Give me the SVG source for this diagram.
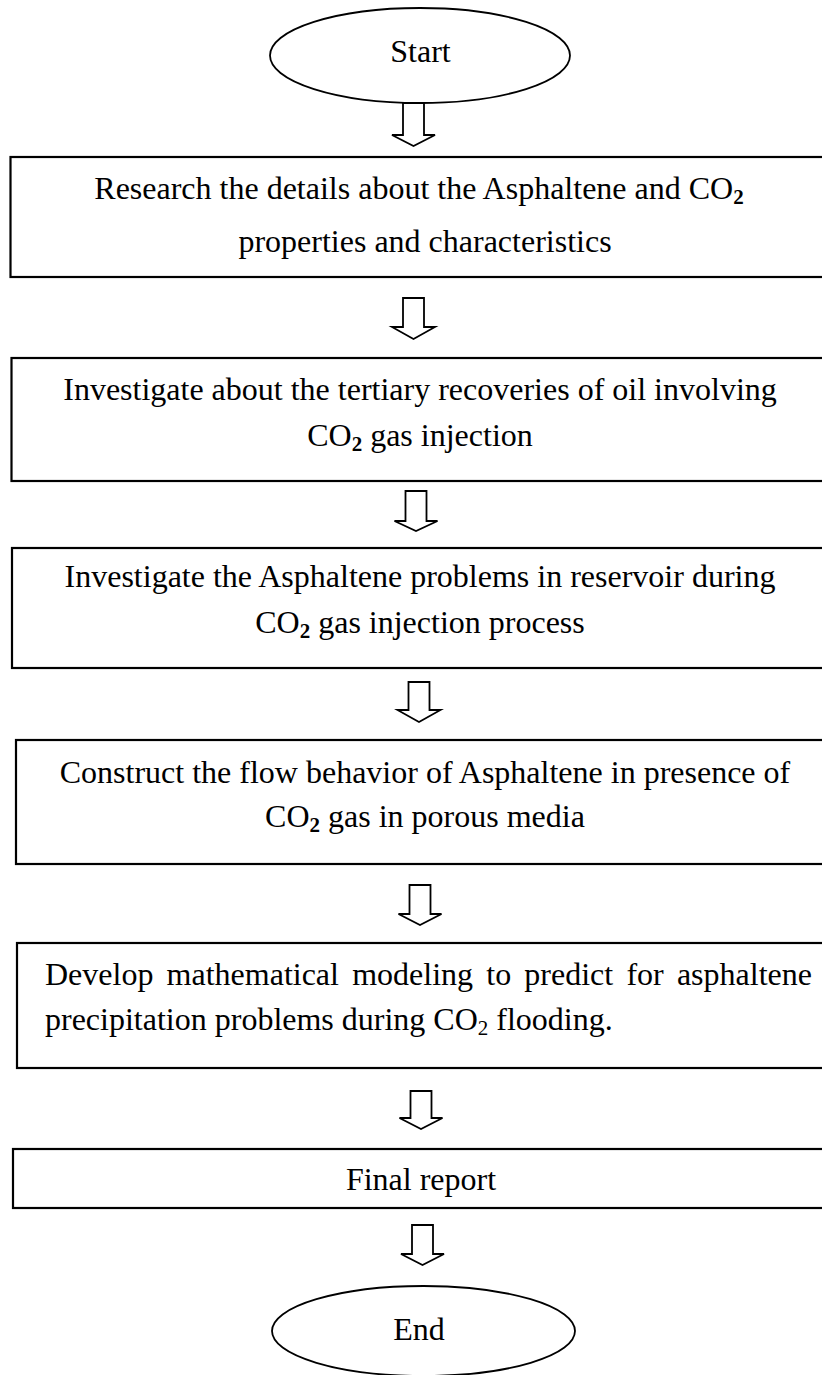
<svg xmlns="http://www.w3.org/2000/svg" width="822" height="1375" viewBox="0 0 822 1375">
<style>
  .bg { fill: #ffffff; }
  .node { fill: #ffffff; stroke: #000000; stroke-width: 2.2; }
  .term { fill: #ffffff; stroke: #000000; stroke-width: 1.8; }
  .arrow { fill: #ffffff; stroke: #000000; stroke-width: 1.8; stroke-linejoin: miter; }
  .t { font-family: "Liberation Serif", "Times New Roman", serif; font-size: 32px; fill: #000000; }
  .c { text-anchor: middle; }
  .sub { font-size: 21px; font-weight: bold; }
  .subr { font-size: 21px; }
</style>
<rect class="bg" x="0" y="0" width="822" height="1375"/>

<g id="connectors">
  <path class="arrow" d="M403,103 L424,103 L424,135 L435,135 L413.5,146 L392,135 L403,135 Z"/>
  <path class="arrow" d="M403,298 L424,298 L424,327 L435,327 L413.5,339 L392,327 L403,327 Z"/>
  <path class="arrow" d="M405.5,491 L426.5,491 L426.5,521 L437.5,521 L416,531 L394.5,521 L405.5,521 Z"/>
  <path class="arrow" d="M408.5,682 L429.5,682 L429.5,710 L440.5,710 L419,722 L397.5,710 L408.5,710 Z"/>
  <path class="arrow" d="M409.5,885 L430.5,885 L430.5,914 L441.5,914 L420,925 L398.5,914 L409.5,914 Z"/>
  <path class="arrow" d="M410.5,1091 L431.5,1091 L431.5,1118 L442.5,1118 L421,1129 L399.5,1118 L410.5,1118 Z"/>
  <path class="arrow" d="M412,1225 L433,1225 L433,1254 L444,1254 L422.5,1265 L401,1254 L412,1254 Z"/>
</g>

<g id="start">
  <ellipse class="term" cx="420" cy="55.5" rx="150" ry="47.5"/>
  <text class="t c" x="420.5" y="62">Start</text>
</g>

<g id="step1">
  <rect class="node" x="10.5" y="157" width="820" height="120"/>
  <text class="t c" x="419" y="199">Research the details about the Asphaltene and CO<tspan class="sub" dy="5">2</tspan></text>
  <text class="t c" x="425" y="252">properties and characteristics</text>
</g>

<g id="step2">
  <rect class="node" x="11.5" y="358" width="820" height="123"/>
  <text class="t c" x="420" y="400">Investigate about the tertiary recoveries of oil involving</text>
  <text class="t c" x="420" y="446">CO<tspan class="sub" dy="5">2</tspan><tspan dy="-5"> gas injection</tspan></text>
</g>

<g id="step3">
  <rect class="node" x="12" y="548" width="820" height="120"/>
  <text class="t c" x="420" y="587">Investigate the Asphaltene problems in reservoir during</text>
  <text class="t c" x="420" y="633">CO<tspan class="sub" dy="5">2</tspan><tspan dy="-5"> gas injection process</tspan></text>
</g>

<g id="step4">
  <rect class="node" x="16" y="740" width="820" height="124"/>
  <text class="t c" x="425" y="783">Construct the flow behavior of Asphaltene in presence of</text>
  <text class="t c" x="425" y="827">CO<tspan class="sub" dy="5">2</tspan><tspan dy="-5"> gas in porous media</tspan></text>
</g>

<g id="step5">
  <rect class="node" x="17" y="943" width="820" height="125"/>
  <text class="t" x="45" y="985" word-spacing="5.2">Develop mathematical modeling to predict for asphaltene</text>
  <text class="t" x="45" y="1030">precipitation problems during CO<tspan class="subr" dy="5">2</tspan><tspan dy="-5"> flooding.</tspan></text>
</g>

<g id="final-report">
  <rect class="node" x="13" y="1149" width="820" height="59"/>
  <text class="t c" x="421" y="1190">Final report</text>
</g>

<g id="end">
  <ellipse class="term" cx="423.5" cy="1331" rx="151.5" ry="45"/>
  <text class="t c" x="419" y="1340">End</text>
</g>
</svg>
